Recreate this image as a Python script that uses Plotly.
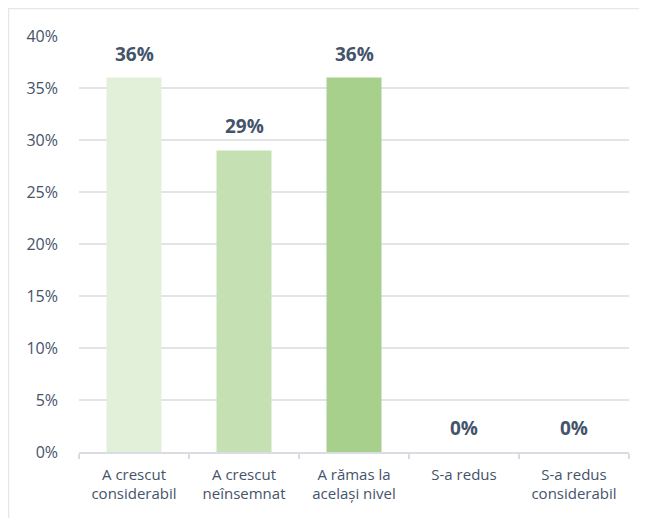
import plotly.graph_objects as go

categories = ["A crescut<br>considerabil", "A crescut<br>neînsemnat", "A rămas la<br>același nivel",
              "S-a redus", "S-a redus<br>considerabil"]
values = [36, 29, 36, 0, 0]
labels = ["36%", "29%", "36%", "0%", "0%"]
colors = ["#e2efd9", "#c5e0b3", "#a8d08d", "#a8d08d", "#a8d08d"]

FONT = "Open Sans"
TXT = "#44546a"

W, H = 639, 510
L, R, T, B = 71, 18, 28, 66
PW, PH = W - L - R, H - T - B

fig = go.Figure()
fig.add_trace(go.Bar(x=categories, y=values, marker=dict(color=colors, line=dict(width=0)),
                     width=0.5, hoverinfo="skip"))

for c, v, t in zip(categories, values, labels):
    fig.add_annotation(x=c, y=v, text="<b>%s</b>" % t, showarrow=False, yanchor="middle",
                       yshift=24, font=dict(family=FONT, size=19, color=TXT))

fig.add_shape(type="rect", xref="paper", yref="paper",
              x0=-(L - 0.5) / PW, y0=-(B + 20) / PH, x1=1 + (R + 20) / PW, y1=1 + (T - 0.5) / PH,
              line=dict(color="#e3e6ea", width=1.5), fillcolor="rgba(0,0,0,0)", layer="below")

fig.update_layout(
    width=W, height=H,
    margin=dict(l=L, r=R, t=T, b=B),
    paper_bgcolor="white", plot_bgcolor="white",
    showlegend=False,
    bargap=0.5,
    font=dict(family=FONT, color=TXT),
    xaxis=dict(showline=True, linecolor="#d9dde3", linewidth=1.5, ticks="outside",
               tickson="boundaries", ticklen=5, tickcolor="#d9dde3", tickwidth=1.5,
               ticklabelstandoff=8,
               tickfont=dict(family=FONT, size=15, color=TXT), showgrid=False),
    yaxis=dict(range=[0, 40], dtick=5, ticksuffix="%", showgrid=True, gridcolor="#e1e5ea",
               gridwidth=1.5, zeroline=False, showline=False, ticks="",
               ticklabelstandoff=20,
               tickfont=dict(family=FONT, size=16, color=TXT)),
)

fig.write_html("out.html")
